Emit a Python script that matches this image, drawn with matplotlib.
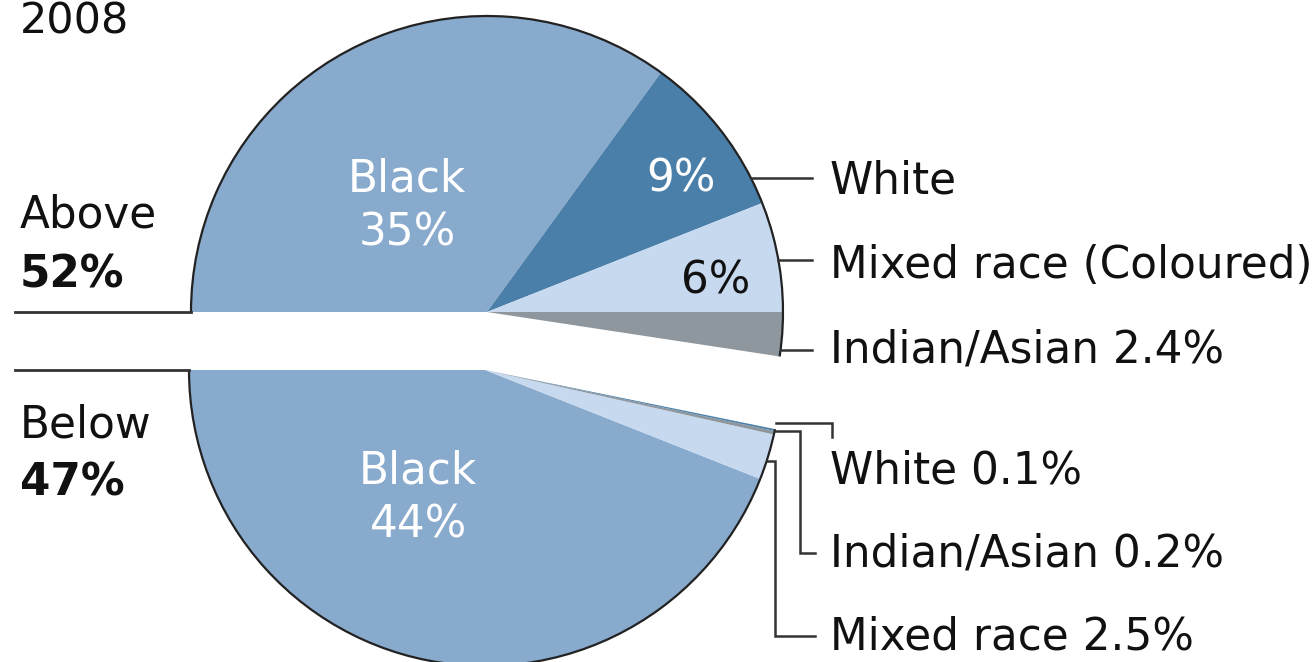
import numpy as np
import matplotlib
matplotlib.use("Agg")
import matplotlib.pyplot as plt
from matplotlib.patches import Arc

# data (percent of population, 2008)
year = "2008"
groups = ["Above", "Below"]
group_totals = [52, 47]

above_names = ["Black", "White", "Mixed race (Coloured)", "Indian/Asian"]
above_vals = [35, 9, 6, 2.4]

below_names = ["Black", "Mixed race", "Indian/Asian", "White"]
below_vals = [44, 2.5, 0.2, 0.1]

c_black = "#88aacd"
c_white = "#4a7fa9"
c_mixed = "#c7d9ef"
c_indian = "#8f979e"
above_cols = [c_black, c_white, c_mixed, c_indian]
below_cols = [c_black, c_mixed, c_indian, c_white]

W, H = 1316, 662
plt.rcParams['font.family'] = ['DejaVu Sans']
fig = plt.figure(figsize=(W / 100, H / 100), dpi=100)
ax = fig.add_axes([0, 0, 1, 1])

def Y(p):
    # pixel row (from top) -> data y
    return H - p

R = 296
cu = (487, Y(312))   # upper pie centre
cl = (485, Y(370))   # lower pie centre

fs = 31.5

# upper pie: clockwise from the left
ax.pie(np.array(above_vals) / 100, colors=above_cols, startangle=180, counterclock=False,
       radius=R, center=cu, normalize=False, wedgeprops=dict(linewidth=0))
# lower pie: counter-clockwise from the left (downwards)
ax.pie(np.array(below_vals) / 100, colors=below_cols, startangle=180, counterclock=True,
       radius=R, center=cl, normalize=False, wedgeprops=dict(linewidth=0))

# outer outlines
up_span = 360 * sum(above_vals) / 100
lo_span = 360 * sum(below_vals) / 100
ax.add_patch(Arc(cu, 2 * R, 2 * R, theta1=180 - up_span, theta2=180, color="#222222", lw=1.6))
ax.add_patch(Arc(cl, 2 * R, 2 * R, theta1=180, theta2=180 + lo_span, color="#222222", lw=1.6))

# left rules
ax.plot([15, cu[0] - R], [cu[1], cu[1]], color="#333333", lw=2)
ax.plot([15, cl[0] - R], [cl[1], cl[1]], color="#333333", lw=2)

def edge_x(c, py):
    dy = Y(py) - c[1]
    return c[0] + np.sqrt(R ** 2 - dy ** 2)

lk = dict(color="#333333", lw=1.8, solid_joinstyle="miter")
# upper leaders
for py in [178, 260, 350]:
    ax.plot([edge_x(cu, py), 812], [Y(py), Y(py)], **lk)
# lower leaders (brackets)
ax.plot([edge_x(cl, 423), 832, 832], [Y(423), Y(423), Y(437)], **lk)
ax.plot([edge_x(cl, 431), 800, 800, 815], [Y(431), Y(431), Y(553), Y(553)], **lk)
ax.plot([edge_x(cl, 461), 775, 775, 815], [Y(461), Y(461), Y(636), Y(636)], **lk)

tk = dict(fontsize=fs, va="baseline", color="#111111")
# right labels
ax.text(830, Y(193), above_names[1], **tk)
ax.text(830, Y(278), above_names[2], **tk)
ax.text(830, Y(363), f"{above_names[3]} {above_vals[3]}%", **tk)
ax.text(830, Y(483), f"{below_names[3]} {below_vals[3]}%", **tk)
ax.text(830, Y(567), f"{below_names[2]} {below_vals[2]}%", **tk)
ax.text(830, Y(650), f"{below_names[1]} {below_vals[1]}%", **tk)

# left labels
ax.text(20, Y(33), year, fontsize=31, va="baseline", color="#111111")
ax.text(20, Y(227), groups[0], **tk)
ax.text(20, Y(287), f"{group_totals[0]}%", fontsize=fs, va="baseline", color="#111111", fontweight="bold")
ax.text(20, Y(437), groups[1], **tk)
ax.text(20, Y(495), f"{group_totals[1]}%", fontsize=fs, va="baseline", color="#111111", fontweight="bold")

# in-slice labels
wk = dict(fontsize=fs, va="baseline", ha="center", color="white")
ax.text(407, Y(192), above_names[0], **wk)
ax.text(407, Y(245), f"{above_vals[0]}%", **wk)
ax.text(681, Y(192), f"{above_vals[1]}%", **wk)
ax.text(716, Y(293), f"{above_vals[2]}%", fontsize=fs, va="baseline", ha="center", color="#111111")
ax.text(418, Y(483), below_names[0], **wk)
ax.text(419, Y(538), f"{below_vals[0]}%", **wk)

ax.set_xlim(0, W)
ax.set_ylim(0, H)
ax.set_aspect("auto")
ax.axis("off")

fig.savefig("out.png", dpi=100, facecolor="white")
